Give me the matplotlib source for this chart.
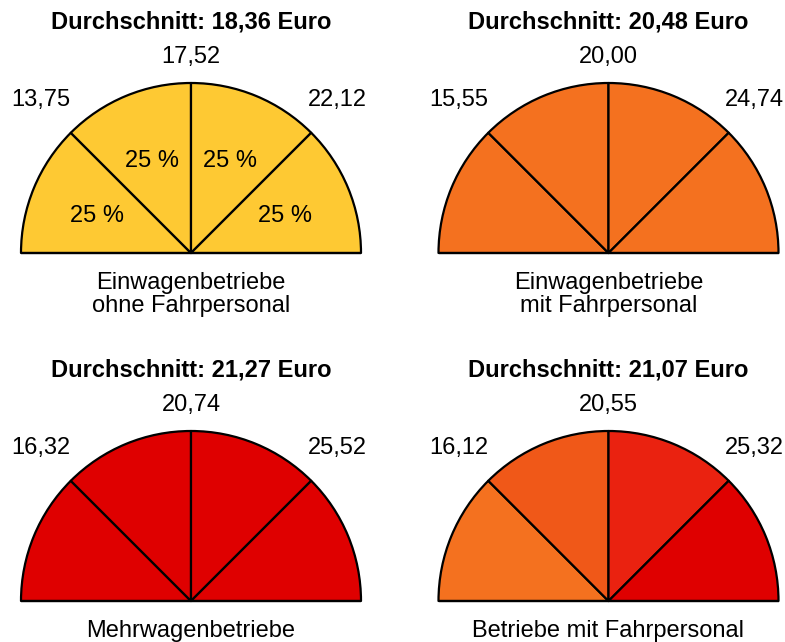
import matplotlib
matplotlib.use("Agg")
import matplotlib.pyplot as plt
from matplotlib.patches import Wedge
import numpy as np

plt.rcParams['font.family'] = ['Liberation Sans', 'DejaVu Sans']

# Fahrpreise (Euro) je Betriebsart: Durchschnitt, unteres Quartil, Median, oberes Quartil
groups = ["Einwagenbetriebe\nohne Fahrpersonal",
          "Einwagenbetriebe\nmit Fahrpersonal",
          "Mehrwagenbetriebe",
          "Betriebe mit Fahrpersonal"]
averages = ["18,36", "20,48", "21,27", "21,07"]
q1 = ["13,75", "15,55", "16,32", "16,12"]
medians = ["17,52", "20,00", "20,74", "20,55"]
q3 = ["22,12", "24,74", "25,52", "25,32"]
shares = [25, 25, 25, 25]           # Anteil je Segment in Prozent
show_shares = [True, False, False, False]

segment_colors = [
    ["#FEC933", "#FEC933", "#FEC933", "#FEC933"],
    ["#F4711F", "#F4711F", "#F4711F", "#F4711F"],
    ["#DF0000", "#DF0000", "#DF0000", "#DF0000"],
    ["#F4711F", "#F05818", "#EA2210", "#DF0000"],
]

W, H = 785, 642
fig = plt.figure(figsize=(W / 100, H / 100), dpi=100)
ax = fig.add_axes([0, 0, 1, 1])
ax.set_xlim(0, W)
ax.set_ylim(0, H)
ax.set_aspect("equal")
ax.axis("off")

centers = [(191, 253), (608.5, 253), (191, 601), (608.5, 601)]
R = 170
fs = 17

for i, (cx, cy_px) in enumerate(centers):
    cy = H - cy_px
    # Segmente von links (180°) nach rechts (0°)
    theta = 180.0
    for k, s in enumerate(shares):
        span = 180.0 * s / sum(shares)
        w = Wedge((cx, cy), R, theta - span, theta, facecolor=segment_colors[i][k],
                  edgecolor="black", linewidth=1.6, joinstyle="round")
        ax.add_patch(w)
        mid = np.deg2rad(theta - span / 2)
        if show_shares[i]:
            ax.text(cx + 0.6 * R * np.cos(mid), cy + 0.6 * R * np.sin(mid) - 2,
                    f"{s} %", ha="center", va="center", fontsize=fs)
        theta -= span
    ax.plot([cx - R, cx + R], [cy, cy], color="black", linewidth=1.6,
            solid_capstyle="butt")

    ax.text(cx, cy + 231, f"Durchschnitt: {averages[i]} Euro", ha="center",
            va="center", fontsize=fs, fontweight="bold")
    ax.text(cx, cy + 196, medians[i], ha="center", va="center", fontsize=fs)
    ax.text(cx - 150, cy + 153, q1[i], ha="center", va="center", fontsize=fs)
    ax.text(cx + 146, cy + 153, q3[i], ha="center", va="center", fontsize=fs)
    ax.text(cx, cy - 19, groups[i], ha="center", va="top", fontsize=fs,
            linespacing=1.05)

fig.savefig("out.png", dpi=100)
